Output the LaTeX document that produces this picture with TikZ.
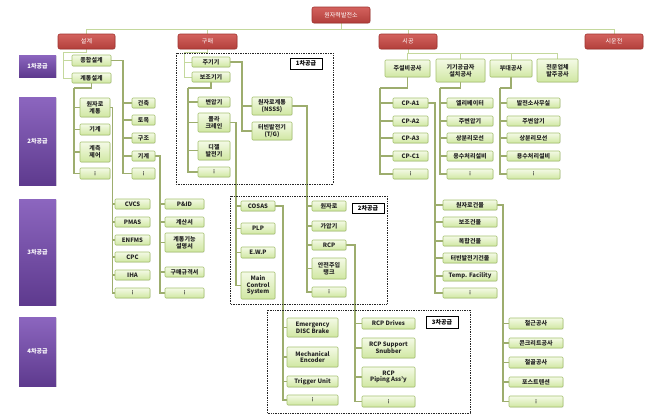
\documentclass[tikz,border=0pt]{standalone}
\usepackage{fontspec}
\setmainfont{Noto Sans CJK KR}
\newfontfamily\dv{DejaVu Sans}
\usetikzlibrary{shadows,backgrounds}
\definecolor{gT}{HTML}{F4FAE6}
\definecolor{gB}{HTML}{D0E7A2}
\definecolor{gL}{HTML}{A6C26F}
\definecolor{lnAc}{HTML}{C4D89D}
\definecolor{lnBc}{HTML}{9DAD6E}
\definecolor{rT}{HTML}{D3625E}
\definecolor{rB}{HTML}{B23F3B}
\definecolor{rL}{HTML}{A0322E}
\definecolor{pT}{HTML}{8C66BF}
\definecolor{pB}{HTML}{5E3A8E}
\tikzset{
  gbox/.style={rectangle,rounded corners=1pt,draw=gL,line width=0.6pt,top color=gT,bottom color=gB,
    inner sep=0pt,align=center,text=black!85,font=\fontsize{6}{6.6}\selectfont\bfseries,
    drop shadow={opacity=0.18,shadow xshift=0.7pt,shadow yshift=-0.7pt}},
  rbox/.style={rectangle,rounded corners=2pt,draw=rL,line width=0.6pt,top color=rT,bottom color=rB,
    inner sep=0pt,align=center,text=white,font=\fontsize{6}{7}\selectfont,
    drop shadow={opacity=0.2,shadow xshift=0.7pt,shadow yshift=-0.7pt}},
  pbox/.style={rectangle,top color=pT,bottom color=pB,inner sep=0pt,align=center,text=white,
    font=\fontsize{6}{7}\selectfont\bfseries,
    drop shadow={opacity=0.25,shadow xshift=1pt,shadow yshift=-1pt}},
  lbl/.style={rectangle,draw=black,line width=0.8pt,fill=white,inner sep=0pt,
    font=\fontsize{6}{7}\selectfont\bfseries},
  dframe/.style={draw=black!85,densely dotted,line width=0.7pt},
  lnA/.style={draw=lnAc,line width=1pt},
  lnB/.style={draw=lnBc,line width=1.8pt},
}
\newcommand\GB[6]{\node[gbox,minimum width={(#4-#2)*1pt},minimum height={(#5-#3)*1pt}] (#1) at ({(#2+#4)/2},{(#3+#5)/2}) {#6};}
\newcommand\RB[6]{\node[rbox,minimum width={(#4-#2)*1pt},minimum height={(#5-#3)*1pt}] (#1) at ({(#2+#4)/2},{(#3+#5)/2}) {#6};}
\newcommand\PB[6]{\node[pbox,minimum width={(#4-#2)*1pt},minimum height={(#5-#3)*1pt}] (#1) at ({(#2+#4)/2},{(#3+#5)/2}) {#6};}
\newcommand\LB[6]{\node[lbl,minimum width={(#4-#2)*1pt},minimum height={(#5-#3)*1pt}] (#1) at ({(#2+#4)/2},{(#3+#5)/2}) {#6};}
\newcommand\vd{{\dv\fontsize{5}{5}\selectfont ⋮}}
\newcommand\RS[3]{\foreach \c in {#3} {\draw[lnB] (#1.east) -| (\c.west -| #2) -- (\c.west);}}
\newcommand\DS[3]{\draw[lnB] (#1.south) |- (#2); \foreach \c in {#3} {\draw[lnB] (#2) |- (\c.west);}}
\begin{document}
\begin{tikzpicture}[x=1pt,y=-1pt]
\useasboundingbox (0,0) rectangle (653,416);

% dotted frames
\draw[dframe] (176,53) rectangle (333,184);
\draw[dframe] (230,196) rectangle (387,304);
\draw[dframe] (267,310) rectangle (470,413);

% root and level 1
\RB{r}{312}{7}{370}{23}{원자력발전소}
\RB{d1}{58}{34}{115}{49}{설계}
\RB{d2}{178}{34}{237}{49}{구매}
\RB{d3}{379}{34}{437}{49}{시공}
\RB{d4}{585}{34}{643}{49}{시운전}

% supply tiers
\PB{p1}{19}{55}{56}{77}{1차공급}
\PB{p2}{19}{97}{56}{185}{2차공급}
\PB{p3}{19}{199}{56}{305}{3차공급}
\PB{p4}{19}{317}{56}{386}{4차공급}

% 설계
\GB{a1}{72}{55}{111}{66}{종합설계}
\GB{a2}{72}{73}{111}{83}{계통설계}
\GB{b1}{132}{98}{155}{108}{건축}
\GB{b2}{132}{115}{155}{125}{토목}
\GB{b3}{132}{133}{155}{143}{구조}
\GB{b4}{132}{151}{155}{161}{기계}
\GB{b5}{132}{168}{155}{179}{\vd}
\GB{c1}{80}{98}{110}{117}{원자로\\계통}
\GB{c2}{80}{124}{110}{135}{기계}
\GB{c3}{80}{142}{110}{162}{계측\\제어}
\GB{c4}{80}{168}{110}{179}{\vd}
\GB{e1}{115}{199}{150}{209}{CVCS}
\GB{e2}{115}{217}{150}{227}{PMAS}
\GB{e3}{115}{235}{150}{245}{ENFMS}
\GB{e4}{115}{252}{150}{262}{CPC}
\GB{e5}{115}{270}{150}{280}{IHA}
\GB{e6}{115}{288}{150}{298}{\vd}
\GB{f1}{165}{199}{204}{209}{P\&ID}
\GB{f2}{165}{217}{204}{227}{계산서}
\GB{f3}{165}{233}{204}{252}{계통기능\\설명서}
\GB{f4}{165}{267}{204}{277}{구매규격서}
\GB{f5}{165}{288}{204}{298}{\vd}

% 구매
\GB{g1}{192}{57}{230}{67}{주기기}
\GB{g2}{192}{72}{230}{82}{보조기기}
\GB{h1}{252}{97}{292}{115}{원자로계통\\(NSSS)}
\GB{h2}{252}{122}{292}{140}{터빈발전기\\(T/G)}
\GB{i1}{198}{97}{230}{107}{변압기}
\GB{i2}{198}{113}{230}{132}{폴라\\크레인}
\GB{i3}{198}{141}{230}{160}{디젤\\발전기}
\GB{i4}{198}{167}{230}{177}{\vd}
\GB{j1}{241}{201}{275}{211}{COSAS}
\GB{j2}{241}{223}{275}{234}{PLP}
\GB{j3}{241}{247}{275}{258}{E.W.P}
\GB{j4}{241}{272}{275}{299}{Main\\Control\\System}
\GB{k1}{312}{201}{346}{211}{원자로}
\GB{k2}{312}{221}{346}{231}{가압기}
\GB{k3}{312}{240}{346}{250}{RCP}
\GB{k4}{312}{258}{346}{279}{안전주입\\탱크}
\GB{k5}{312}{287}{346}{297}{\vd}
\GB{l1}{287}{318}{338}{337}{Emergency\\DISC Brake}
\GB{l2}{287}{347}{338}{367}{Mechanical\\Encoder}
\GB{l3}{287}{376}{338}{387}{Trigger Unit}
\GB{l4}{287}{395}{338}{405}{\vd}
\GB{m1}{362}{318}{415}{329}{RCP Drives}
\GB{m2}{362}{338}{415}{358}{RCP Support\\Snubber}
\GB{m3}{362}{367}{415}{387}{RCP\\Piping Ass'y}
\GB{m4}{362}{396}{415}{407}{\vd}

% 시공
\GB{n1}{385}{60}{430}{77}{주설비공사}
\GB{n2}{436}{59}{485}{82}{기기공급자\\설치공사}
\GB{n3}{490}{60}{532}{77}{부대공사}
\GB{n4}{537}{59}{578}{82}{전문업체\\발주공사}
\GB{o1}{393}{98}{428}{108}{CP-A1}
\GB{o2}{393}{116}{428}{126}{CP-A2}
\GB{o3}{393}{133}{428}{143}{CP-A3}
\GB{o4}{393}{151}{428}{161}{CP-C1}
\GB{o5}{393}{169}{428}{179}{\vd}
\GB{q1}{447}{98}{493}{108}{엘리베이터}
\GB{q2}{447}{116}{493}{126}{주변압기}
\GB{q3}{447}{133}{493}{143}{상분리모선}
\GB{q4}{447}{151}{493}{161}{용수처리설비}
\GB{q5}{447}{169}{493}{179}{\vd}
\GB{u1}{507}{98}{560}{108}{발전소사무실}
\GB{u2}{507}{116}{560}{126}{주변압기}
\GB{u3}{507}{133}{560}{143}{상분리모선}
\GB{u4}{507}{151}{560}{161}{용수처리설비}
\GB{u5}{507}{169}{560}{179}{\vd}
\GB{s1}{443}{200}{497}{210}{원자로건물}
\GB{s2}{443}{217}{497}{227}{보조건물}
\GB{s3}{443}{236}{497}{246}{복합건물}
\GB{s4}{443}{253}{497}{263}{터빈발전기건물}
\GB{s5}{443}{271}{497}{281}{Temp. Facility}
\GB{s6}{443}{288}{497}{298}{\vd}
\GB{t1}{509}{318}{563}{329}{철근공사}
\GB{t2}{509}{338}{563}{348}{콘크리트공사}
\GB{t3}{509}{357}{563}{368}{철골공사}
\GB{t4}{509}{377}{563}{387}{포스트텐션}
\GB{t5}{509}{396}{563}{407}{\vd}

% tier labels
\LB{L1}{290}{58}{322}{69}{1차공급}
\LB{L2}{352}{203}{384}{213}{2차공급}
\LB{L3}{426}{316}{458}{328}{3차공급}

% spine coordinates
\coordinate (rt) at (341,29);
\coordinate (sa) at (63,52);
\coordinate (sg) at (184,52);
\coordinate (st) at (408,53);
\coordinate (sb) at (123,0);
\coordinate (sc) at (74,88);
\coordinate (se) at (112.5,0);
\coordinate (sf) at (160,0);
\coordinate (sh) at (242,0);
\coordinate (si) at (188,88);
\coordinate (sj) at (236,0);
\coordinate (sk) at (307,0);
\coordinate (sl) at (283,0);
\coordinate (sm) at (355,0);
\coordinate (so) at (380,88);
\coordinate (sq) at (440,88);
\coordinate (su) at (500,88);
\coordinate (ss) at (435,0);
\coordinate (stt) at (503,0);

\begin{scope}[on background layer]
\fill[white] (0,0) rectangle (653,416);
\draw[lnA] (r.south) -- (rt);
\foreach \n in {d1,d2,d3,d4} {\draw[lnA] (\n.north) |- (rt);}
\draw[lnA] (d1.south) |- (sa);
\foreach \n in {a1,a2} {\draw[lnA] (sa) |- (\n.west);}
\draw[lnA] (d2.south) |- (sg);
\foreach \n in {g1,g2} {\draw[lnA] (sg) |- (\n.west);}
\draw[lnA] (d3.south) |- (st);
\foreach \n in {n1,n2,n3,n4} {\draw[lnA] (\n.north) |- (st);}

\RS{a1}{sb}{b1,b2,b3,b4,b5}
\DS{a2}{sc}{c1,c2,c3,c4}
\RS{c1}{se}{e1,e2,e3,e4,e5,e6}
\RS{b4}{sf}{f1,f2,f3,f4,f5}
\RS{g1}{sh}{h1,h2}
\DS{g2}{si}{i1,i2,i3,i4}
\RS{i2}{sj}{j1,j2,j3,j4}
\RS{h1}{sk}{k1,k2,k3,k4,k5}
\RS{j1}{sl}{l1,l2,l3,l4}
\RS{k3}{sm}{m1,m2,m3,m4}
\DS{n1}{so}{o1,o2,o3,o4,o5}
\DS{n2}{sq}{q1,q2,q3,q4,q5}
\DS{n3}{su}{u1,u2,u3,u4,u5}
\RS{o1}{ss}{s1,s2,s3,s4,s5,s6}
\RS{s1}{stt}{t1,t2,t3,t4,t5}
\end{scope}
\end{tikzpicture}
\end{document}
